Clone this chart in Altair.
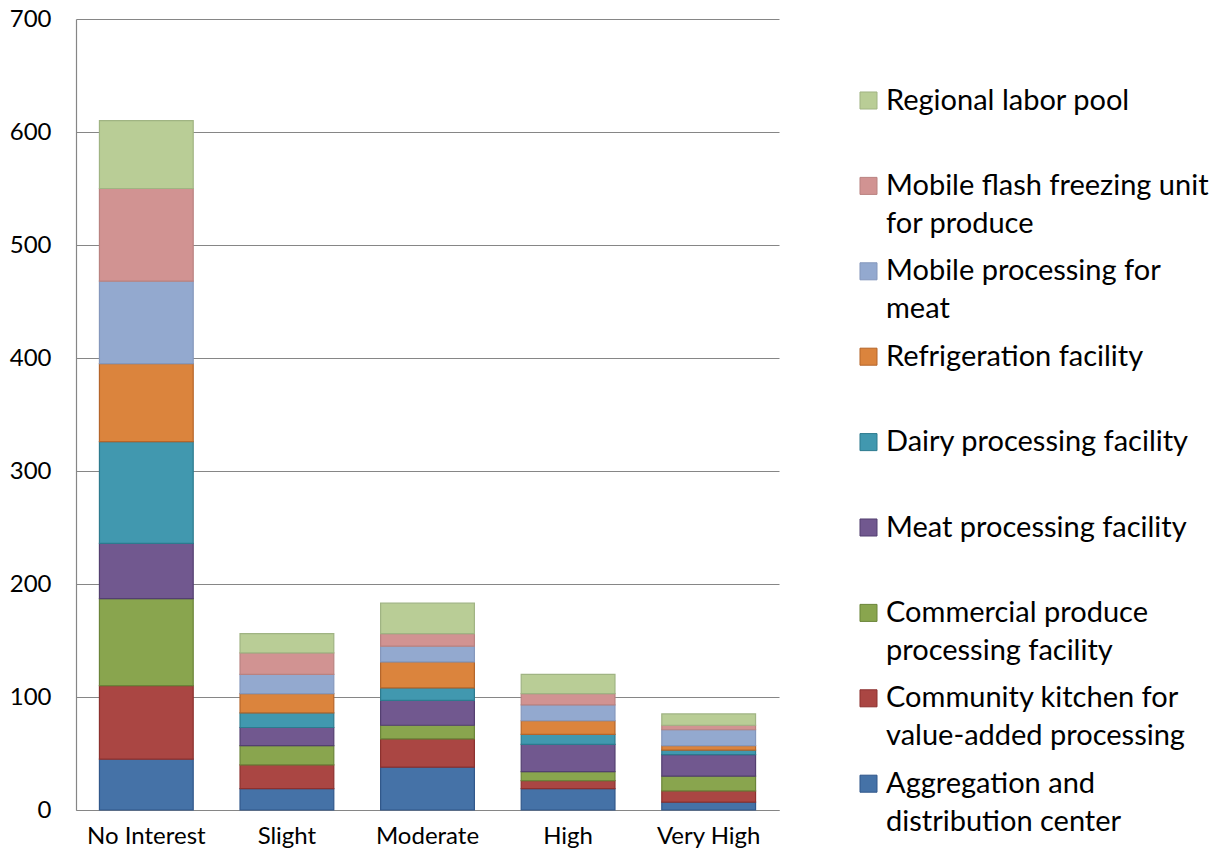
import altair as alt
import pandas as pd

categories = ["No Interest", "Slight", "Moderate", "High", "Very High"]

series = [
    "Aggregation and distribution center",
    "Community kitchen for value-added processing",
    "Commercial produce processing facility",
    "Meat processing facility",
    "Dairy processing facility",
    "Refrigeration facility",
    "Mobile processing for meat",
    "Mobile flash freezing unit for produce",
    "Regional labor pool",
]

aggregation = [45, 19, 38, 19, 7]
community_kitchen = [65, 21, 25, 7, 10]
commercial_produce = [77, 17, 12, 8, 13]
meat_processing = [49, 16, 22, 24, 19]
dairy_processing = [90, 13, 11, 9, 4]
refrigeration = [69, 17, 23, 12, 4]
mobile_meat = [73, 17, 14, 14, 14]
flash_freezing = [82, 19, 11, 10, 4]
labor_pool = [60, 17, 27, 17, 10]

series_values = [aggregation, community_kitchen, commercial_produce, meat_processing,
                 dairy_processing, refrigeration, mobile_meat, flash_freezing, labor_pool]

fills = ["#4572A7", "#AA4643", "#89A54E", "#71588F", "#4198AF",
         "#DB843D", "#93A9CF", "#D19392", "#B9CD96"]
strokes = ["#30578A", "#8C302E", "#6A8438", "#533F70", "#2C7A8E",
           "#B5652A", "#8497BC", "#B98280", "#A0B483"]

legend_lines = {
    "Regional labor pool": ["Regional labor pool"],
    "Mobile flash freezing unit for produce": ["Mobile flash freezing unit", "for produce"],
    "Mobile processing for meat": ["Mobile processing for", "meat"],
    "Refrigeration facility": ["Refrigeration facility"],
    "Dairy processing facility": ["Dairy processing facility"],
    "Meat processing facility": ["Meat processing facility"],
    "Commercial produce processing facility": ["Commercial produce", "processing facility"],
    "Community kitchen for value-added processing": ["Community kitchen for", "value-added processing"],
    "Aggregation and distribution center": ["Aggregation and", "distribution center"],
}

rows = []
for i, (s, vals) in enumerate(zip(series, series_values)):
    for c, v in zip(categories, vals):
        rows.append({"category": c, "series": s, "value": v, "idx": i})
df = pd.DataFrame(rows)


def arr(lines):
    padded = lines + ([""] if len(lines) == 1 else [])
    return "[" + ", ".join("'" + t + "'" for t in padded) + "]"


expr = "[datum.label, '']"
for name, lines in legend_lines.items():
    expr = f"datum.label == '{name}' ? {arr(lines)} : ({expr})"

legend = alt.Legend(
    title=None,
    orient="none",
    legendX=778,
    legendY=67,
    symbolType="square",
    symbolSize=290,
    symbolStrokeWidth=1,
    labelFont="Lato",
    labelFontSize=29,
    labelColor="black",
    labelLimit=500,
    labelOffset=3,
    labelExpr=expr,
    rowPadding=17.4,
)

dom = series[::-1]

chart = alt.Chart(df).mark_bar(strokeWidth=1.2).encode(
    x=alt.X(
        "category:N",
        sort=categories,
        scale=alt.Scale(paddingInner=0.333, paddingOuter=0.1667),
        axis=alt.Axis(title=None, labelAngle=0, ticks=False, tickSize=0,
                      domainColor="#868686", domainWidth=1.2,
                      labelFont="Lato", labelFontSize=24, labelColor="black",
                      labelPadding=14, grid=False),
    ),
    y=alt.Y(
        "value:Q",
        stack="zero",
        scale=alt.Scale(domain=[0, 700], nice=False),
        axis=alt.Axis(title=None, values=[0, 100, 200, 300, 400, 500, 600, 700],
                      ticks=False, tickSize=0, gridColor="#868686", gridWidth=1.2,
                      domainColor="#868686", domainWidth=1.2,
                      labelFont="Lato", labelFontSize=24, labelColor="black",
                      labelPadding=25),
    ),
    color=alt.Color("series:N", scale=alt.Scale(domain=dom, range=fills[::-1]), legend=legend),
    stroke=alt.Stroke("series:N", scale=alt.Scale(domain=dom, range=strokes[::-1]), legend=legend),
    order=alt.Order("idx:Q", sort="ascending"),
).properties(
    width=703,
    height=791,
    autosize=alt.AutoSizeParams(type="none"),
    padding={"left": 68, "top": 11, "right": 440, "bottom": 39},
).configure(
    style={"guide-label": {"lineHeight": 38}},
).configure_view(stroke=None)

chart.save("out.html", embed_options={"renderer": "svg", "actions": False})
